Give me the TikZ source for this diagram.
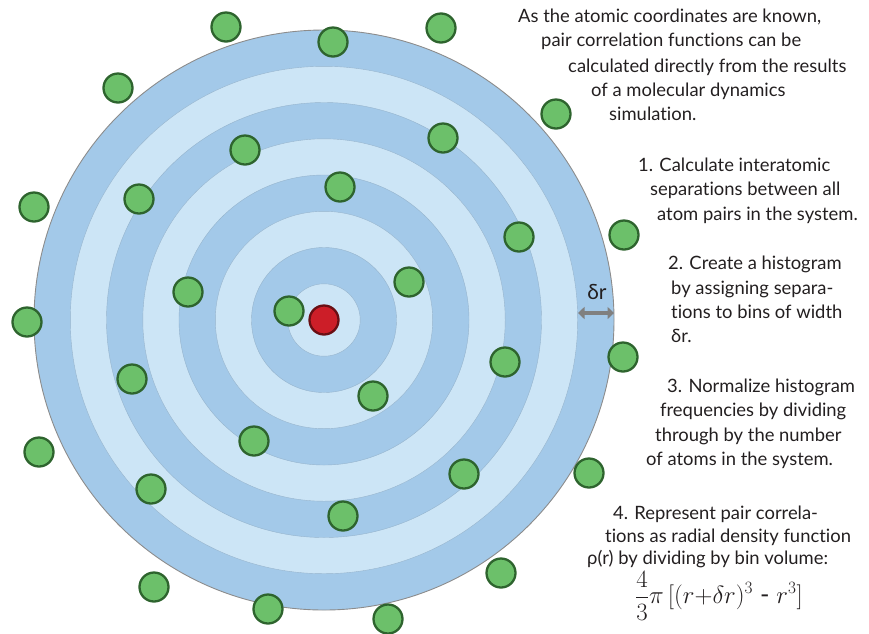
\documentclass[tikz,border=0pt]{standalone}
\usepackage[no-math]{fontspec}
\setmainfont{Lato}[RawFeature=-liga]
\usetikzlibrary{arrows.meta}
\definecolor{ringdark}{RGB}{163,201,233}
\definecolor{ringlight}{RGB}{204,229,246}
\definecolor{ringline}{RGB}{150,180,205}
\definecolor{atomgreen}{RGB}{108,192,106}
\definecolor{atomedge}{RGB}{46,100,46}
\definecolor{atomred}{RGB}{204,30,40}
\definecolor{rededge}{RGB}{105,15,20}
\definecolor{txt}{RGB}{35,31,32}
\definecolor{arrowgray}{RGB}{128,128,128}
\tikzset{
  atom/.style={circle, fill=atomgreen, draw=atomedge, line width=2.3pt, minimum size=29pt, inner sep=0pt},
  central/.style={circle, fill=atomred, draw=rededge, line width=2.3pt, minimum size=29pt, inner sep=0pt},
  line/.style={anchor=base west, inner sep=0pt, text=txt, font=\fontsize{18.4}{22}\selectfont},
}
\begin{document}
\begin{tikzpicture}[x=1pt,y=-1pt]
\useasboundingbox (0,0) rectangle (869,633);
% rings
\fill[ringdark] (324,320) circle (290);
\draw[ringline, line width=0.4pt, fill=ringlight] (324,320) circle (253.7);
\draw[ringline, line width=0.4pt, fill=ringdark] (324,320) circle (217.5);
\draw[ringline, line width=0.4pt, fill=ringlight] (324,320) circle (181.2);
\draw[ringline, line width=0.4pt, fill=ringdark] (324,320) circle (145);
\draw[ringline, line width=0.4pt, fill=ringlight] (324,320) circle (108.7);
\draw[ringline, line width=0.4pt, fill=ringdark] (324,320) circle (72.5);
\draw[ringline, line width=0.4pt, fill=ringlight] (324,320) circle (36.2);
\draw[gray!110!black, line width=0.9pt] (324,320) circle (290);
% atoms
\node[atom] (a1) at (226,27) {};
\node[atom] (a2) at (333,42) {};
\node[atom] (a3) at (441,28) {};
\node[atom] (a4) at (118,88) {};
\node[atom] (a5) at (556,114) {};
\node[atom] (a6) at (245,150) {};
\node[atom] (a7) at (443,138) {};
\node[atom] (a8) at (139,199) {};
\node[atom] (a9) at (340,187) {};
\node[atom] (a10) at (34,207) {};
\node[atom] (a11) at (519,237) {};
\node[atom] (a12) at (624,235) {};
\node[atom] (a13) at (188,292) {};
\node[atom] (a14) at (409,282) {};
\node[atom] (a15) at (289,311) {};
\node[atom] (a16) at (27,322) {};
\node[atom] (a17) at (505,362) {};
\node[atom] (a18) at (623,357) {};
\node[atom] (a19) at (132,379) {};
\node[atom] (a20) at (373,396) {};
\node[atom] (a21) at (39,452) {};
\node[atom] (a22) at (254,441) {};
\node[atom] (a23) at (589,473) {};
\node[atom] (a24) at (464,474) {};
\node[atom] (a25) at (151,489) {};
\node[atom] (a26) at (343,516) {};
\node[atom] (a27) at (154,587) {};
\node[atom] (a28) at (501,573) {};
\node[atom] (a29) at (268,609) {};
\node[atom] (a30) at (388,619) {};
\node[central] (c) at (324,320) {};
% delta r arrow
\coordinate (dl) at (578,313);
\coordinate (dr) at (614,313);
\draw[arrowgray, line width=3.6pt, {Triangle[length=6.5pt,width=12pt]}-{Triangle[length=6.5pt,width=12pt]}] (dl) -- (dr);
\node[anchor=base, inner sep=0pt, text=txt, font=\fontsize{21}{24}\selectfont] (dlab) at (597,299.5) {δr};
% text
\node[line] (t1) at (518,22.7) {As the atomic coordinates are known,};
\node[line] (t2) at (541,46.7) {pair correlation functions can be};
\node[line] (t3) at (568,72) {calculated directly from the results};
\node[line] (t4) at (591,96.5) {of a molecular dynamics};
\node[line] (t5) at (609,120) {simulation.};
\node[line] (s1) at (638,171.5) {1. Calculate interatomic};
\node[line] (s2) at (650,195.5) {separations between all};
\node[line] (s3) at (657,220) {atom pairs in the system.};
\node[line] (s4) at (668,269.3) {2. Create a histogram};
\node[line] (s5) at (671,294) {by assigning separa-};
\node[line] (s6) at (671,318.3) {tions to bins of width};
\node[line] (s7) at (671,342.7) {δr.};
\node[line] (s8) at (667,392.3) {3. Normalize histogram};
\node[line] (s9) at (660,416.5) {frequencies by dividing};
\node[line] (s10) at (655,441) {through by the number};
\node[line] (s11) at (646,465) {of atoms in the system.};
\node[line] (s12) at (613,519.3) {4. Represent pair correla-};
\node[line] (s13) at (605,542.7) {tions as radial density function};
\node[line] (s14) at (587,564) {ρ(r) by dividing by bin volume:};
\node[anchor=center, inner sep=0pt, text=txt, font=\fontsize{25.5}{30}\selectfont] (f) at (719,596)
  {$\displaystyle \frac{4}{3}\pi\,[(r{+}\delta r)^3\;\mbox{-}\;r^3]$};
\end{tikzpicture}
\end{document}
